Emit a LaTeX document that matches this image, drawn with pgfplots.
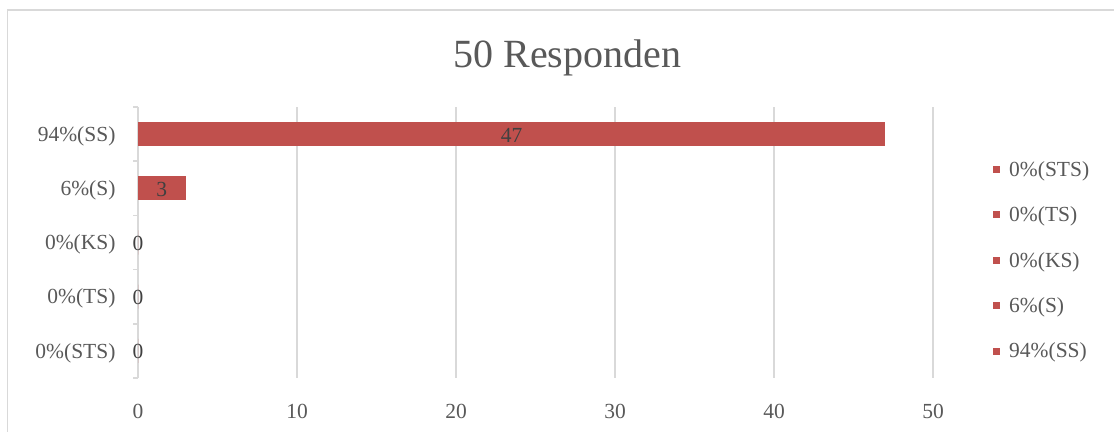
\documentclass[border=0pt]{standalone}
\usepackage{fontspec}
\setmainfont{Liberation Serif}
\usepackage{pgfplots}
\usepackage{pgfplotstable}
\pgfplotsset{compat=1.18}
\definecolor{barred}{HTML}{C0504D}
\definecolor{txtgray}{HTML}{595959}
\definecolor{lblgray}{HTML}{404040}
\definecolor{gridgray}{HTML}{D9D9D9}
\pgfplotstableread{
y v
0 0
1 0
2 0
3 3
4 47
}\datatable
\begin{document}
\begin{tikzpicture}
\useasboundingbox (0,0) rectangle (1114bp,432bp);
\fill[white] (0,0) rectangle (1114bp,432bp);
\draw[gridgray, line width=1.5bp] (7.5bp,0) -- (7.5bp,422bp) -- (1114bp,422bp);
\begin{axis}[
  at={(138bp,54bp)}, anchor=south west,
  scale only axis, width=795bp, height=271bp,
  xbar, bar width=24bp, bar shift=0pt,
  xmin=0, xmax=50, ymin=-0.5, ymax=4.5,
  xtick={0,10,...,50},
  ytick={0,1,2,3,4},
  yticklabels={0\%(STS),0\%(TS),0\%(KS),6\%(S),94\%(SS)},
  minor ytick={-0.5,0.5,...,4.5},
  tick align=outside,
  minor tick length=5bp,
  major tick length=0pt,
  xtick style={draw=none},
  ytick style={draw=none},
  minor y tick style={draw=gridgray, line width=1.5bp},
  xmajorgrids,
  major x grid style={draw=gridgray, line width=1.5bp},
  separate axis lines,
  axis x line*=bottom, axis y line*=left,
  x axis line style={draw=none},
  y axis line style={draw=gridgray, line width=1.5bp, -},
  /pgf/number format/assume math mode=true,
  tick label style={font=\fontsize{21.5bp}{25bp}\selectfont, text=txtgray},
  xticklabel style={yshift=-23bp},
  yticklabel style={xshift=-19bp, yshift=-2bp},
  title={50 Responden},
  title style={at={(axis description cs:0.54,1.16)}, anchor=center, font=\fontsize{40bp}{46bp}\selectfont, text=txtgray},
  legend style={at={(axis description cs:1.0717,0.815)}, anchor=north west, draw=none, fill=none,
    font=\fontsize{21.5bp}{25bp}\selectfont, text=txtgray, row sep=25bp,
    /tikz/every odd column/.append style={column sep=7bp}},
  legend cell align=left,
  legend image code/.code={\fill[barred] (0bp,-3.5bp) rectangle (7bp,3.5bp);},
  clip=false,
]
\addplot[fill=barred, draw=none] coordinates {(0,0)};
\addlegendentry{0\%(STS)}
\addplot[fill=barred, draw=none] coordinates {(0,1)};
\addlegendentry{0\%(TS)}
\addplot[fill=barred, draw=none] coordinates {(0,2)};
\addlegendentry{0\%(KS)}
\addplot[fill=barred, draw=none] coordinates {(3,3)};
\addlegendentry{6\%(S)}
\addplot[fill=barred, draw=none] coordinates {(47,4)};
\addlegendentry{94\%(SS)}
\addplot[forget plot, draw=none, mark=none, xbar=false, only marks, mark=none,
  point meta=explicit,
  nodes near coords,
  every node near coord/.style={anchor=center, yshift=-1bp, text=lblgray, font=\fontsize{21.5bp}{25bp}\selectfont}]
  table[x expr=\thisrow{v}/2, y=y, meta=v] {\datatable};
\end{axis}
\end{tikzpicture}
\end{document}
